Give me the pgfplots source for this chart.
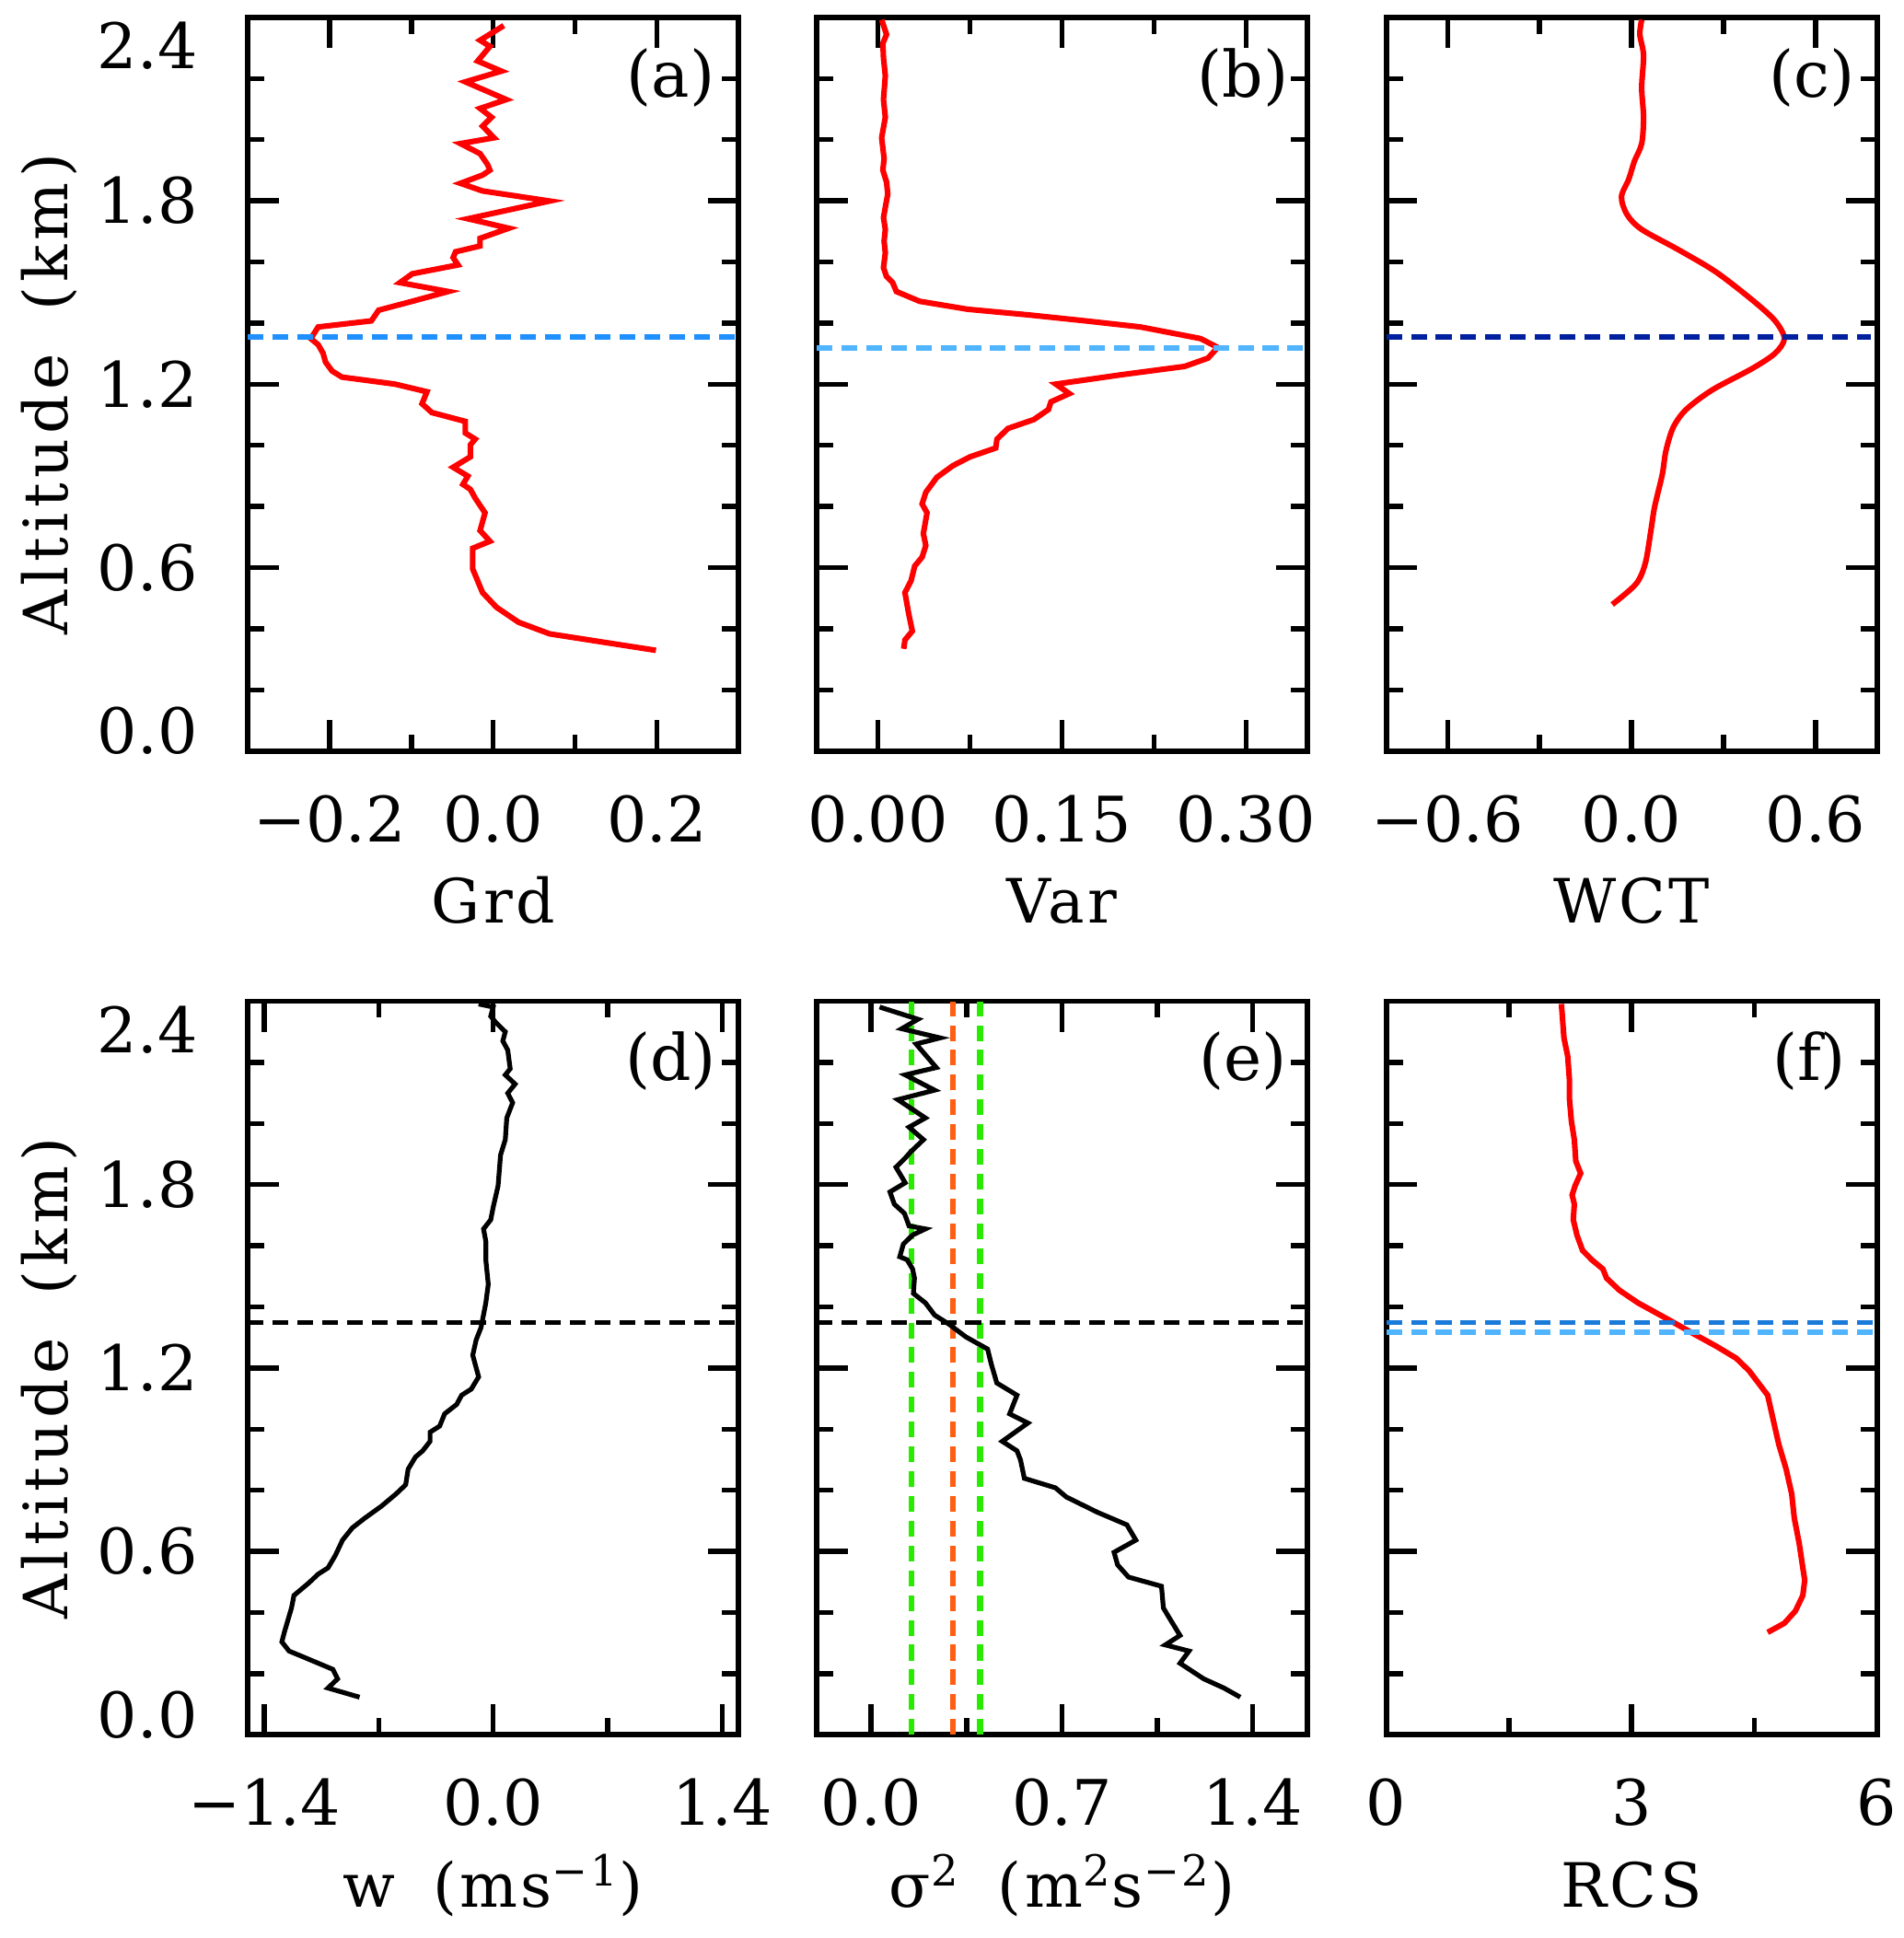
\documentclass[border=0pt]{standalone}
\usepackage{fontspec}
\setmainfont{DejaVu Serif}
\newfontfamily\ylabfont{DejaVu Serif}[LetterSpace=8]
\newfontfamily\xlabfont{DejaVu Serif}[LetterSpace=5]
\usepackage{pgfplots}
\pgfplotsset{compat=1.18}

\definecolor{redc}{RGB}{255,0,0}
\definecolor{blA}{RGB}{30,144,255}
\definecolor{blB}{RGB}{80,180,255}
\definecolor{navyC}{RGB}{0,32,160}
\definecolor{grE}{RGB}{40,235,0}
\definecolor{orE}{RGB}{255,95,20}

\newcommand\tf{\fontsize{15.2pt}{18pt}\selectfont}
\newcommand\lf{\xlabfont\fontsize{14.8pt}{18pt}\selectfont}
\newcommand\pf{\fontsize{15.5pt}{18pt}\selectfont}

\pgfplotsset{
  panel/.style={
    scale only axis, width=118.8pt, height=177.6pt,
    anchor=south west,
    ymin=0, ymax=2.4,
    ytick={0,0.6,1.2,1.8,2.4},
    yticklabels={\raisebox{4.8pt}[\height][\depth]{0.0},0.6,1.2,1.8,\raisebox{-6.9pt}[\height][\depth]{2.4}},
    minor y tick num=2,
    minor x tick num=1,
    tick align=inside,
    major tick length=7.5pt, minor tick length=4pt,
    tick style={black, line width=1.2pt},
    axis line style={line width=1.3pt},
    yticklabel style={anchor=east, inner sep=0pt, xshift=-12pt, font=\tf},
    xticklabel style={anchor=base, inner sep=0pt, yshift=-22pt, font=\tf},
    xlabel style={at={(rel axis cs:0.5,-0.235)}, anchor=base, font=\lf, inner sep=0pt},
    ylabel style={at={(rel axis cs:-0.404,0.486)}, anchor=center, font=\ylabfont\fontsize{14.8pt}{18pt}\selectfont, inner sep=0pt},
    every axis plot/.append style={no marks},
  },
  redline/.style={redc, line width=1.35pt},
  blkline/.style={black, line width=1.15pt},
  dline/.style={line width=1.25pt, dash pattern=on 3.8pt off 2.2pt},
}

\begin{document}
\begin{tikzpicture}
\path[use as bounding box] (0,0) rectangle (460.8pt,469.2pt);

% (a)
\begin{axis}[panel, at={(60pt,287.4pt)},
  xmin=-0.3, xmax=0.3, xtick={-0.2,0,0.2}, xticklabels={−0.2,0.0,0.2},
  xlabel={Grd}, ylabel={Altitude\hspace{0.3em} (km)}]
\addplot[redline] coordinates {
(0.013,2.373) (-0.016,2.325) (-0.004,2.305) (-0.019,2.257) (0.010,2.224) (-0.034,2.189) (0.016,2.131) (-0.016,2.102) (-0.002,2.073) (-0.013,2.044) (0.001,2.006) (-0.040,1.987) (-0.016,1.954) (-0.007,1.919) (-0.004,1.900) (-0.013,1.884) (-0.040,1.857) (-0.013,1.832) (0.069,1.799) (-0.031,1.741) (-0.013,1.730) (0.019,1.710) (-0.016,1.677) (-0.016,1.652) (-0.046,1.633) (-0.049,1.614) (-0.043,1.590) (-0.099,1.561) (-0.114,1.532) (-0.055,1.503) (-0.099,1.471) (-0.140,1.442) (-0.149,1.407) (-0.214,1.387) (-0.223,1.349) (-0.214,1.329) (-0.208,1.301) (-0.205,1.272) (-0.197,1.243) (-0.185,1.223) (-0.120,1.200) (-0.081,1.175) (-0.087,1.136) (-0.075,1.107) (-0.034,1.078) (-0.034,1.040) (-0.022,1.020) (-0.028,1.001) (-0.028,0.962) (-0.049,0.928) (-0.031,0.899) (-0.037,0.872) (-0.028,0.856) (-0.022,0.827) (-0.010,0.779) (-0.016,0.721) (-0.004,0.686) (-0.025,0.663) (-0.025,0.595) (-0.016,0.537) (-0.013,0.518) (0.004,0.470) (0.031,0.421) (0.069,0.383) (0.199,0.329)
};
\addplot[dline, blA] coordinates {(-0.3,1.354) (0.295,1.354)};
\node[font=\pf] at (rel axis cs:0.862,0.918) {(a)};
\end{axis}

% (b)
\begin{axis}[panel, at={(197.7pt,287.4pt)},
  xmin=-0.05, xmax=0.35, xtick={0,0.15,0.3}, xticklabels={0.00,0.15,0.30},
  yticklabels={}, xlabel={Var}]
\addplot[redline] coordinates {
(0.003,2.392) (0.007,2.344) (0.004,2.315) (0.0045,2.267) (0.006,2.209) (0.0045,2.131) (0.006,2.073) (0.003,2.006) (0.005,1.938) (0.004,1.900) (0.007,1.861) (0.008,1.822) (0.0045,1.745) (0.006,1.706) (0.005,1.668) (0.006,1.629) (0.0045,1.581) (0.007,1.552) (0.012,1.532) (0.015,1.503) (0.034,1.471) (0.073,1.445) (0.124,1.426) (0.169,1.407) (0.214,1.387) (0.263,1.349) (0.277,1.320) (0.269,1.285) (0.250,1.258) (0.199,1.231) (0.145,1.200) (0.156,1.169) (0.141,1.142) (0.139,1.117) (0.127,1.084) (0.106,1.055) (0.097,1.020) (0.096,0.991) (0.075,0.962) (0.061,0.933) (0.048,0.895) (0.039,0.846) (0.036,0.808) (0.040,0.779) (0.037,0.711) (0.039,0.672) (0.036,0.634) (0.030,0.605) (0.027,0.557) (0.022,0.518) (0.025,0.450) (0.028,0.392) (0.022,0.363) (0.021,0.334)
};
\addplot[dline, blB] coordinates {(-0.05,1.318) (0.35,1.318)};
\node[font=\pf] at (rel axis cs:0.869,0.918) {(b)};
\end{axis}

% (c)
\begin{axis}[panel, at={(335.6pt,287.4pt)},
  xmin=-0.8, xmax=0.8, xtick={-0.6,0,0.6}, xticklabels={−0.6,0.0,0.6},
  yticklabels={}, xlabel={WCT}]
\addplot[redline, smooth] coordinates {
(0.033,2.392) (0.027,2.344) (0.039,2.276) (0.033,2.170) (0.039,2.073) (0.033,1.987) (0.009,1.929) (-0.009,1.871) (-0.033,1.813) (-0.015,1.755) (0.033,1.706) (0.154,1.639) (0.275,1.567) (0.395,1.474) (0.468,1.407) (0.498,1.349) (0.468,1.301) (0.395,1.252) (0.263,1.181) (0.178,1.117) (0.136,1.059) (0.112,0.982) (0.100,0.904) (0.075,0.798) (0.063,0.721) (0.045,0.615) (0.015,0.547) (-0.063,0.479)
};
\addplot[dline, navyC] coordinates {(-0.8,1.354) (0.78,1.354)};
\node[font=\pf] at (rel axis cs:0.868,0.918) {(c)};
\end{axis}

% (d)
\begin{axis}[panel, at={(60pt,49.2pt)},
  xmin=-1.5, xmax=1.5, xtick={-1.4,0,1.4}, xticklabels={−1.4,0.0,1.4},
  xlabel={w\hspace{0.25em} (ms\textsuperscript{−1})}, ylabel={Altitude\hspace{0.3em} (km)}]
\addplot[blkline] coordinates {
(-0.089,2.391) (0.000,2.381) (-0.015,2.351) (0.015,2.331) (0.074,2.300) (0.059,2.270) (0.089,2.240) (0.104,2.179) (0.074,2.159) (0.134,2.129) (0.089,2.099) (0.119,2.068) (0.083,2.018) (0.074,1.947) (0.045,1.897) (0.030,1.796) (0.000,1.726) (-0.015,1.685) (-0.059,1.655) (-0.045,1.615) (-0.045,1.554) (-0.030,1.474) (-0.045,1.413) (-0.074,1.333) (-0.104,1.292) (-0.125,1.242) (-0.089,1.171) (-0.134,1.131) (-0.193,1.111) (-0.223,1.081) (-0.297,1.050) (-0.327,1.010) (-0.386,0.990) (-0.386,0.960) (-0.431,0.929) (-0.475,0.909) (-0.520,0.869) (-0.535,0.818) (-0.594,0.788) (-0.683,0.748) (-0.787,0.708) (-0.861,0.677) (-0.921,0.637) (-0.965,0.587) (-1.010,0.546) (-1.069,0.526) (-1.129,0.496) (-1.218,0.456) (-1.233,0.415) (-1.277,0.335) (-1.292,0.304) (-1.248,0.274) (-1.158,0.254) (-0.980,0.214) (-0.951,0.183) (-1.010,0.153) (-0.817,0.123)
};
\addplot[dline, black] coordinates {(-1.5,1.349) (1.5,1.349)};
\node[font=\pf] at (rel axis cs:0.862,0.919) {(d)};
\end{axis}

% (e)
\begin{axis}[panel, at={(197.7pt,49.2pt)},
  xmin=-0.2, xmax=1.6, xtick={0,0.7,1.4}, xticklabels={0.0,0.7,1.4},
  yticklabels={}, xlabel={σ\textsuperscript{2}\hspace{0.25em} (m\textsuperscript{2}s\textsuperscript{−2})}]
\addplot[dline, grE, line width=1.4pt] coordinates {(0.149,0) (0.149,2.4)};
\addplot[dline, orE, line width=1.4pt] coordinates {(0.300,0) (0.300,2.4)};
\addplot[dline, grE, line width=1.4pt] coordinates {(0.400,0) (0.400,2.4)};
\addplot[blkline] coordinates {
(0.031,2.381) (0.172,2.341) (0.112,2.310) (0.253,2.280) (0.165,2.260) (0.239,2.183) (0.125,2.159) (0.233,2.109) (0.098,2.078) (0.199,2.018) (0.139,1.988) (0.192,1.947) (0.145,1.907) (0.125,1.887) (0.091,1.857) (0.125,1.806) (0.069,1.776) (0.085,1.736) (0.122,1.706) (0.139,1.665) (0.199,1.655) (0.152,1.635) (0.118,1.605) (0.105,1.564) (0.132,1.554) (0.152,1.524) (0.159,1.494) (0.155,1.444) (0.199,1.413) (0.233,1.373) (0.286,1.343) (0.347,1.302) (0.427,1.262) (0.441,1.212) (0.461,1.151) (0.535,1.111) (0.508,1.050) (0.575,1.020) (0.481,0.960) (0.535,0.929) (0.548,0.899) (0.562,0.839) (0.676,0.808) (0.716,0.778) (0.830,0.728) (0.938,0.687) (0.971,0.637) (0.891,0.597) (0.904,0.556) (0.944,0.516) (1.065,0.486) (1.072,0.415) (1.092,0.385) (1.133,0.325) (1.079,0.294) (1.166,0.274) (1.133,0.234) (1.220,0.183) (1.294,0.153) (1.354,0.123)
};
\addplot[dline, black] coordinates {(-0.2,1.349) (1.6,1.349)};
\node[font=\pf] at (rel axis cs:0.869,0.919) {(e)};
\end{axis}

% (f)
\begin{axis}[panel, at={(335.6pt,49.2pt)},
  xmin=0, xmax=6, xtick={0,3,6}, xticklabels={0,3,6},
  yticklabels={}, xlabel={RCS}]
\addplot[redline] coordinates {
(2.142,2.391) (2.173,2.280) (2.219,2.220) (2.241,2.139) (2.241,2.078) (2.264,2.008) (2.300,1.947) (2.318,1.877) (2.377,1.837) (2.309,1.796) (2.273,1.766) (2.300,1.736) (2.287,1.685) (2.332,1.635) (2.400,1.585) (2.513,1.554) (2.649,1.524) (2.694,1.494) (2.853,1.454) (3.079,1.413) (3.487,1.353) (3.758,1.312) (4.030,1.272) (4.279,1.232) (4.437,1.191) (4.664,1.111) (4.732,1.030) (4.800,0.950) (4.890,0.869) (4.958,0.788) (4.990,0.708) (5.049,0.627) (5.094,0.546) (5.117,0.506) (5.094,0.456) (5.003,0.405) (4.868,0.365) (4.664,0.335)
};
\addplot[dline, blA!85!black] coordinates {(0,1.349) (5.95,1.349)};
\addplot[dline, blB] coordinates {(0,1.318) (5.95,1.318)};
\node[font=\pf] at (rel axis cs:0.862,0.919) {(f)};
\end{axis}
\end{tikzpicture}
\end{document}
